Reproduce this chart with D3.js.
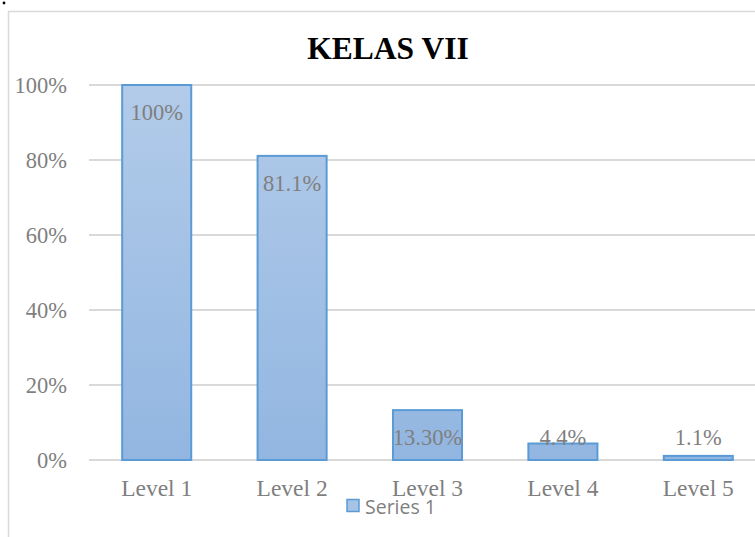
<!DOCTYPE html>
<html><head><meta charset="utf-8">
<script src="https://cdn.jsdelivr.net/npm/d3@7"></script>
<style>body{margin:0;background:#fff;}svg{display:block;}</style>
</head><body>
<svg id="c" width="755" height="537"></svg>
<script>
const categories = ["Level 1","Level 2","Level 3","Level 4","Level 5"];
const values = [100, 81.1, 13.3, 4.4, 1.1];
const valueLabels = ["100%","81.1%","13.30%","4.4%","1.1%"];
const yTicks = [0,20,40,60,80,100];
const title = "KELAS VII";
const seriesName = "Series 1";

const svg = d3.select("#c");
const W = 755, H = 537;
const m = {left: 89, right: -11, top: 85, bottom: 77};
const serif = "'Liberation Serif','Times New Roman',serif";

// outer frame
svg.append("rect").attr("x",8.5).attr("y",11.5).attr("width",800).attr("height",600)
  .attr("fill","none").attr("stroke","#d9d9d9").attr("stroke-width",1.5);
svg.append("circle").attr("cx",4).attr("cy",3).attr("r",1.4).attr("fill","#000");

const x = d3.scaleBand().domain(categories).range([m.left, W - m.right]).paddingInner(0.49).paddingOuter(0.245);
const y = d3.scaleLinear().domain([0,100]).range([H - m.bottom, m.top]);

const defs = svg.append("defs");
const g = defs.append("linearGradient").attr("id","bg")
  .attr("gradientUnits","userSpaceOnUse").attr("x1",0).attr("x2",0).attr("y1",y(100)).attr("y2",y(0));
g.append("stop").attr("offset",0).attr("stop-color","#b2cbe9");
g.append("stop").attr("offset",1).attr("stop-color","#92b6e1");

// gridlines
svg.append("g").selectAll("line").data(yTicks).join("line")
  .attr("x1",m.left).attr("x2",W + 20).attr("y1",d=>y(d)).attr("y2",d=>y(d))
  .attr("stroke","#d9d9d9").attr("stroke-width",2);

// y tick labels
svg.append("g").selectAll("text").data(yTicks).join("text")
  .attr("x",67).attr("y",d=>y(d)).attr("dy","0.35em").attr("text-anchor","end")
  .attr("font-family",serif).attr("font-size",22.5)
  .attr("fill","#7f7f7f").text(d=>d+"%");

// bars
svg.append("g").selectAll("rect").data(values).join("rect")
  .attr("x",(d,i)=>x(categories[i])).attr("width",x.bandwidth())
  .attr("y",d=>y(d)).attr("height",d=>y(0)-y(d))
  .attr("fill","url(#bg)").attr("stroke","#5b9bd5").attr("stroke-width",2);

// value labels
svg.append("g").selectAll("text").data(values).join("text")
  .attr("x",(d,i)=>x(categories[i]) + x.bandwidth()/2)
  .attr("y",d=>Math.min(y(d)+27, y(0)-23)).attr("dy","0.35em").attr("text-anchor","middle")
  .attr("font-family",serif).attr("font-size",22.5)
  .attr("fill","#7f7f7f").text((d,i)=>valueLabels[i]);

// category labels
svg.append("g").selectAll("text").data(categories).join("text")
  .attr("x",d=>x(d)+x.bandwidth()/2).attr("y",488).attr("dy","0.35em").attr("text-anchor","middle")
  .attr("font-family",serif).attr("font-size",23.5)
  .attr("fill","#7f7f7f").text(d=>d);

// title
svg.append("text").attr("x",388).attr("y",59).attr("text-anchor","middle")
  .attr("font-family",serif).attr("font-weight","bold")
  .attr("font-size",31.5).attr("fill","#000").text(title);

// legend
svg.append("rect").attr("x",347).attr("y",499.5).attr("width",12).attr("height",12)
  .attr("fill","#a6c3e6").attr("stroke","#5b9bd5").attr("stroke-width",1.5);
svg.append("text").attr("x",365).attr("y",507).attr("dy","0.35em")
  .attr("font-family","'Open Sans','Liberation Sans',sans-serif").attr("font-size",19.5)
  .attr("fill","#7f7f7f").text(seriesName);
</script>
</body></html>
